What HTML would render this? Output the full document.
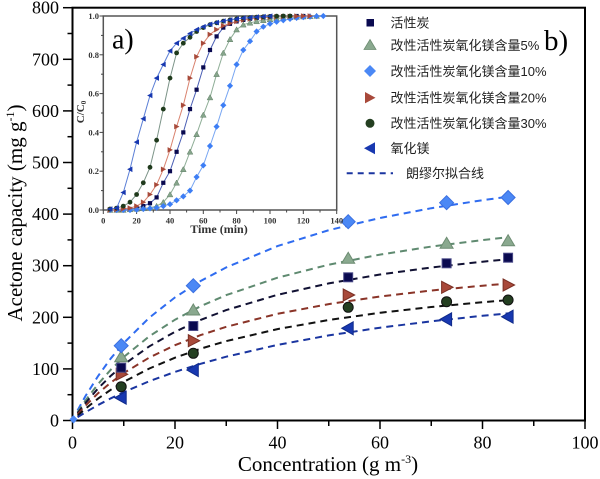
<!DOCTYPE html>
<html><head><meta charset="utf-8"><style>
html,body{margin:0;padding:0;background:#fff;}
svg{display:block;}
</style></head><body>
<svg width="600" height="479" viewBox="0 0 600 479" xmlns="http://www.w3.org/2000/svg">
<defs>
<rect id="sq" x="-4.5" y="-4.5" width="9" height="9" fill="#0a0a50" stroke="#4a4a88" stroke-width="1"/>
<polygon id="tu" points="0,-6 6.5,5 -6.5,5" fill="#8aa98f" stroke="#6d8c72" stroke-width="1"/>
<polygon id="di" points="0,-7 7,0 0,7 -7,0" fill="#4b88f5" stroke="#3a6fe0" stroke-width="1"/>
<polygon id="rt" points="-5,-6 6.5,0 -5,6" fill="#a8493a" stroke="#7a2f24" stroke-width="1"/>
<circle id="ci" r="5" fill="#243f21" stroke="#111" stroke-width="1"/>
<polygon id="lt" points="5,-6.5 -6.5,0 5,6.5" fill="#1838b0" stroke="#0f2a8a" stroke-width="1"/>

<marker id="isq" markerWidth="10" markerHeight="10" refX="5" refY="5" markerUnits="userSpaceOnUse" orient="0" overflow="visible"><rect x="2.9" y="2.9" width="4.2" height="4.2" fill="#0a0a50"/></marker>
<marker id="itu" markerWidth="10" markerHeight="10" refX="5" refY="5" markerUnits="userSpaceOnUse" orient="0" overflow="visible"><polygon points="5,2.2 7.9,7.4 2.1,7.4" fill="#86a58b" stroke="#5f7f66" stroke-width="0.5"/></marker>
<marker id="idi" markerWidth="10" markerHeight="10" refX="5" refY="5" markerUnits="userSpaceOnUse" orient="0" overflow="visible"><polygon points="5,1.9 8.1,5 5,8.1 1.9,5" fill="#3d7ef5"/></marker>
<marker id="irt" markerWidth="10" markerHeight="10" refX="5" refY="5" markerUnits="userSpaceOnUse" orient="0" overflow="visible"><polygon points="2.6,2.2 7.9,5 2.6,7.8" fill="#a84a3a"/></marker>
<marker id="ici" markerWidth="10" markerHeight="10" refX="5" refY="5" markerUnits="userSpaceOnUse" orient="0" overflow="visible"><circle cx="5" cy="5" r="2.4" fill="#1f3a1c"/></marker>
<marker id="ilt" markerWidth="10" markerHeight="10" refX="5" refY="5" markerUnits="userSpaceOnUse" orient="0" overflow="visible"><polygon points="7.4,2.2 2.1,5 7.4,7.8" fill="#1838b0"/></marker>
</defs>

<!-- main frame -->
<rect x="72.5" y="7.7" width="512.5" height="412.8" fill="none" stroke="#000" stroke-width="2"/>

<!-- y ticks -->
<g stroke="#000" stroke-width="1.5">
<line x1="63" y1="420.5" x2="72.5" y2="420.5"/>
<line x1="63" y1="368.9" x2="72.5" y2="368.9"/>
<line x1="63" y1="317.3" x2="72.5" y2="317.3"/>
<line x1="63" y1="265.7" x2="72.5" y2="265.7"/>
<line x1="63" y1="214.1" x2="72.5" y2="214.1"/>
<line x1="63" y1="162.5" x2="72.5" y2="162.5"/>
<line x1="63" y1="110.9" x2="72.5" y2="110.9"/>
<line x1="63" y1="59.3" x2="72.5" y2="59.3"/>
<line x1="63" y1="7.7" x2="72.5" y2="7.7"/>
<line x1="67.5" y1="394.7" x2="72.5" y2="394.7"/>
<line x1="67.5" y1="343.1" x2="72.5" y2="343.1"/>
<line x1="67.5" y1="291.5" x2="72.5" y2="291.5"/>
<line x1="67.5" y1="239.9" x2="72.5" y2="239.9"/>
<line x1="67.5" y1="188.3" x2="72.5" y2="188.3"/>
<line x1="67.5" y1="136.7" x2="72.5" y2="136.7"/>
<line x1="67.5" y1="85.1" x2="72.5" y2="85.1"/>
<line x1="67.5" y1="33.5" x2="72.5" y2="33.5"/>
<!-- x ticks -->
<line x1="72.5" y1="420.5" x2="72.5" y2="429"/>
<line x1="175" y1="420.5" x2="175" y2="429"/>
<line x1="277.5" y1="420.5" x2="277.5" y2="429"/>
<line x1="380" y1="420.5" x2="380" y2="429"/>
<line x1="482.5" y1="420.5" x2="482.5" y2="429"/>
<line x1="585" y1="420.5" x2="585" y2="429"/>
<line x1="123.75" y1="420.5" x2="123.75" y2="426"/>
<line x1="226.25" y1="420.5" x2="226.25" y2="426"/>
<line x1="328.75" y1="420.5" x2="328.75" y2="426"/>
<line x1="431.25" y1="420.5" x2="431.25" y2="426"/>
<line x1="533.75" y1="420.5" x2="533.75" y2="426"/>
</g>

<!-- y tick labels -->
<g font-family="'Liberation Serif', 'Times New Roman', 'DejaVu Serif', serif" font-size="18" fill="#000" text-anchor="end">
<text x="59" y="426.5">0</text>
<text x="59" y="374.9">100</text>
<text x="59" y="323.3">200</text>
<text x="59" y="271.7">300</text>
<text x="59" y="220.1">400</text>
<text x="59" y="168.5">500</text>
<text x="59" y="116.9">600</text>
<text x="59" y="65.3">700</text>
<text x="59" y="13.7">800</text>
</g>
<g font-family="'Liberation Serif', 'Times New Roman', 'DejaVu Serif', serif" font-size="18" fill="#000" text-anchor="middle">
<text x="72.5" y="448.5">0</text>
<text x="175" y="448.5">20</text>
<text x="277.5" y="448.5">40</text>
<text x="380" y="448.5">60</text>
<text x="482.5" y="448.5">80</text>
<text x="585" y="448.5">100</text>
</g>

<!-- axis titles -->
<text x="328" y="471" text-anchor="middle" font-family="'Liberation Serif', 'Times New Roman', 'DejaVu Serif', serif" font-size="21" fill="#000">Concentration (g m<tspan dy="-8" font-size="12">-3</tspan><tspan dy="8">)</tspan></text>
<text transform="translate(22,213) rotate(-90)" text-anchor="middle" font-family="'Liberation Serif', 'Times New Roman', 'DejaVu Serif', serif" font-size="21" fill="#000">Acetone capacity (mg g<tspan dy="-8" font-size="12">-1</tspan><tspan dy="8">)</tspan></text>

<!-- main dashed fit lines -->
<g fill="none" stroke-width="2" stroke-dasharray="7,5">
<polyline stroke="#2f6cf0" points="77.6,410.4 85.3,396.4 98.1,376.0 110.9,358.3 123.75,343.0 149.4,317.6 175,297.4 200.6,281.0 226.25,267.4 277.5,246.1 328.75,230.2 380,218.0 431.25,208.2 482.5,200.2 508.1,196.7"/>
<polyline stroke="#5f8a70" points="77.6,412.2 85.3,400.8 98.1,384.0 110.9,369.6 123.75,357.0 149.4,336.2 175,319.7 200.6,306.2 226.25,295.1 277.5,277.7 328.75,264.7 380,254.6 431.25,246.6 482.5,240.1 508.1,237.2"/>
<polyline stroke="#111133" points="77.6,413.2 85.3,403.2 98.1,388.4 110.9,375.7 123.75,364.6 149.4,346.3 175,331.8 200.6,319.9 226.25,310.1 277.5,294.8 328.75,283.4 380,274.5 431.25,267.5 482.5,261.7 508.1,259.2"/>
<polyline stroke="#8a3428" points="77.6,414.3 85.3,405.8 98.1,393.2 110.9,382.5 123.75,373.1 149.4,357.5 175,345.2 200.6,335.1 226.25,326.8 277.5,313.8 328.75,304.1 380,296.5 431.25,290.5 482.5,285.7 508.1,283.5"/>
<polyline stroke="#111" points="77.6,415.6 85.3,408.8 98.1,398.6 110.9,389.7 123.75,381.8 149.4,368.5 175,357.7 200.6,348.7 226.25,341.1 277.5,329.1 328.75,320.0 380,312.8 431.25,307.0 482.5,302.2 508.1,300.1"/>
<polyline stroke="#1a35a0" points="77.6,417.2 85.3,412.4 98.1,405.0 110.9,398.3 123.75,392.1 149.4,381.2 175,371.9 200.6,363.8 226.25,356.7 277.5,344.9 328.75,335.4 380,327.7 431.25,321.3 482.5,315.8 508.1,313.4"/>
</g>

<!-- main markers -->
<use href="#lt" x="121.2" y="397.7"/><use href="#lt" x="193.3" y="370"/><use href="#lt" x="348.2" y="328.3"/><use href="#lt" x="446.6" y="319.3"/><use href="#lt" x="508.1" y="316.7"/>
<use href="#ci" x="121.2" y="386.7"/><use href="#ci" x="193.3" y="353.3"/><use href="#ci" x="348.2" y="307.3"/><use href="#ci" x="446.6" y="301.7"/><use href="#ci" x="508.1" y="300"/>
<use href="#rt" x="121.2" y="374.3"/><use href="#rt" x="193.3" y="340.7"/><use href="#rt" x="348.2" y="295"/><use href="#rt" x="446.6" y="287.3"/><use href="#rt" x="508.1" y="285"/>
<use href="#sq" x="121.2" y="367.7"/><use href="#sq" x="193.3" y="326"/><use href="#sq" x="348.2" y="277.3"/><use href="#sq" x="446.6" y="263.3"/><use href="#sq" x="508.1" y="257.7"/>
<use href="#tu" x="121.2" y="356.7"/><use href="#tu" x="193.3" y="310"/><use href="#tu" x="348.2" y="258.3"/><use href="#tu" x="446.6" y="243.3"/><use href="#tu" x="508.1" y="240.7"/>
<use href="#di" x="121.2" y="345.7"/><use href="#di" x="193.3" y="285.7"/><use href="#di" x="348.2" y="221.7"/><use href="#di" x="446.6" y="202.7"/><use href="#di" x="508.1" y="197.5"/>
<polygon points="73.5,415 77.5,419.3 73.5,423.6 69.5,419.3" fill="#4b88f5"/>

<!-- ===== inset ===== -->
<rect x="103.3" y="16" width="233.4" height="194" fill="#fff" stroke="#555" stroke-width="1.5"/>
<g stroke="#444" stroke-width="1">
<line x1="99.5" y1="210" x2="103.3" y2="210"/>
<line x1="99.5" y1="171.2" x2="103.3" y2="171.2"/>
<line x1="99.5" y1="132.4" x2="103.3" y2="132.4"/>
<line x1="99.5" y1="93.6" x2="103.3" y2="93.6"/>
<line x1="99.5" y1="54.8" x2="103.3" y2="54.8"/>
<line x1="99.5" y1="16" x2="103.3" y2="16"/>
<line x1="101" y1="190.6" x2="103.3" y2="190.6"/>
<line x1="101" y1="151.8" x2="103.3" y2="151.8"/>
<line x1="101" y1="113" x2="103.3" y2="113"/>
<line x1="101" y1="74.2" x2="103.3" y2="74.2"/>
<line x1="101" y1="35.4" x2="103.3" y2="35.4"/>
<line x1="103.3" y1="210" x2="103.3" y2="214"/>
<line x1="136.6" y1="210" x2="136.6" y2="214"/>
<line x1="170" y1="210" x2="170" y2="214"/>
<line x1="203.3" y1="210" x2="203.3" y2="214"/>
<line x1="236.6" y1="210" x2="236.6" y2="214"/>
<line x1="270" y1="210" x2="270" y2="214"/>
<line x1="303.3" y1="210" x2="303.3" y2="214"/>
<line x1="336.7" y1="210" x2="336.7" y2="214"/>
<line x1="120" y1="210" x2="120" y2="212.5"/>
<line x1="153.3" y1="210" x2="153.3" y2="212.5"/>
<line x1="186.6" y1="210" x2="186.6" y2="212.5"/>
<line x1="220" y1="210" x2="220" y2="212.5"/>
<line x1="253.3" y1="210" x2="253.3" y2="212.5"/>
<line x1="286.6" y1="210" x2="286.6" y2="212.5"/>
<line x1="320" y1="210" x2="320" y2="212.5"/>
</g>
<g font-family="'Liberation Serif', 'Times New Roman', 'DejaVu Serif', serif" font-size="8.5" font-weight="bold" fill="#333" text-anchor="end">
<text x="99" y="213">0.0</text>
<text x="99" y="174.2">0.2</text>
<text x="99" y="135.4">0.4</text>
<text x="99" y="96.6">0.6</text>
<text x="99" y="57.8">0.8</text>
<text x="99" y="19">1.0</text>
</g>
<g font-family="'Liberation Serif', 'Times New Roman', 'DejaVu Serif', serif" font-size="8.5" font-weight="bold" fill="#333" text-anchor="middle">
<text x="103.3" y="223.5">0</text>
<text x="136.6" y="223.5">20</text>
<text x="170" y="223.5">40</text>
<text x="203.3" y="223.5">60</text>
<text x="236.6" y="223.5">80</text>
<text x="270" y="223.5">100</text>
<text x="303.3" y="223.5">120</text>
<text x="336.7" y="223.5">140</text>
</g>
<text x="219" y="233" text-anchor="middle" font-family="'Liberation Serif', 'Times New Roman', 'DejaVu Serif', serif" font-size="12" font-weight="bold" fill="#333">Time (min)</text>
<text transform="translate(84,112) rotate(-90)" text-anchor="middle" font-family="'Liberation Serif', 'Times New Roman', 'DejaVu Serif', serif" font-size="11" font-weight="bold" fill="#333">C/C<tspan font-size="7" dy="2">0</tspan></text>
<text x="112" y="48.5" font-family="'Liberation Serif', 'Times New Roman', 'DejaVu Serif', serif" font-size="28" fill="#000">a)</text>

<g fill="none" stroke-width="1">
<polyline stroke="#4b5fb5" marker-start="url(#isq)" marker-mid="url(#isq)" marker-end="url(#isq)" points="110,210 116.6,210 123.3,209.4 130,209 136.6,208.1 143.3,206.1 150,203.2 156.6,197.4 163.3,182.8 170,171.2 176.6,151.8 183.3,132.4 190,109.1 196.6,89.7 203.3,67.4 210,50 216.6,36.4 223.3,27.6 230,23.8 236.6,21.4 243.3,19.9 250,18.7 256.6,17.9 263.3,17.4 270,17 276.6,16.6 283.3,16.4 290,16.2 296.6,16 303.3,16"/>
<polyline stroke="#8fae97" marker-start="url(#itu)" marker-mid="url(#itu)" marker-end="url(#itu)" points="110,210 116.6,210 123.3,210 130,209.4 136.6,209 143.3,208.4 150,207.7 156.6,206.1 163.3,202.2 170,194.5 176.6,182.8 183.3,169.3 190,151.8 196.6,134.3 203.3,114.9 210,97.5 216.6,74.2 223.3,52.9 230,39.3 236.6,29.6 243.3,24.7 250,22.8 256.6,21.4 263.3,20.3 270,19.3 276.6,18.5 283.3,17.9 290,17.4 296.6,17 303.3,16.6 310,16.2 316.6,16"/>
<polyline stroke="#78a6f2" marker-start="url(#idi)" marker-mid="url(#idi)" marker-end="url(#idi)" points="110,210 116.6,210 123.3,210 130,210 136.6,209.6 143.3,209 150,208.4 156.6,207.7 163.3,206.1 170,204.2 176.6,200.3 183.3,196.4 190,190.6 196.6,177 203.3,165.4 210,146 216.6,126.6 223.3,105.2 230,85.8 236.6,64.5 243.3,50 250,41.2 256.6,31.5 263.3,26.7 270,23.8 276.6,21.8 283.3,20.3 290,18.9 296.6,17.9 303.3,17.2 310,16.6 316.6,16.2 323.3,16"/>
<polyline stroke="#d9826e" marker-start="url(#irt)" marker-mid="url(#irt)" marker-end="url(#irt)" points="110,210 116.6,209.4 123.3,208.8 130,208.1 136.6,206.1 143.3,202.2 150,194.5 156.6,184.8 163.3,169.3 170,149.9 176.6,126.6 183.3,105.2 190,78.1 196.6,56.7 203.3,43.2 210,34.4 216.6,29.6 223.3,25.7 230,23.4 236.6,21.4 243.3,19.9 250,18.9 256.6,18.1 263.3,17.6 270,17.2 276.6,16.8 283.3,16.6 290,16.4 296.6,16.2 303.3,16 310,16"/>
<polyline stroke="#7c9488" marker-start="url(#ici)" marker-mid="url(#ici)" marker-end="url(#ici)" points="110,209 116.6,208.1 123.3,206.1 130,202.2 136.6,194.5 143.3,182.8 150,167.3 156.6,140.2 163.3,109.1 170,78.1 176.6,52.9 183.3,43.2 190,37.3 196.6,31.5 203.3,27.6 210,24.7 216.6,22.8 223.3,21.2 230,19.9 236.6,18.9 243.3,18.1 250,17.6 256.6,17.2 263.3,16.8 270,16.4 276.6,16.2 283.3,16 290,16"/>
<polyline stroke="#5b7fd6" marker-start="url(#ilt)" marker-mid="url(#ilt)" marker-end="url(#ilt)" points="110,209 116.6,208.1 123.3,192.5 130,169.3 136.6,142.1 143.3,118.8 150,95.5 156.6,78.1 163.3,64.5 170,50.9 176.6,43.2 183.3,38.3 190,33.5 196.6,29.6 203.3,26.7 210,24.3 216.6,22.6 223.3,21 230,19.9 236.6,18.9 243.3,18.1 250,17.6 256.6,17 263.3,16.6 270,16.2"/>
</g>

<!-- legend -->
<rect x="366.5" y="19" width="7.5" height="7.5" fill="#0a0a50"/>
<polygon points="370,39.5 376,49.5 364,49.5" fill="#8aa98f" stroke="#6d8c72" stroke-width="0.8"/>
<polygon points="370,65 376,71 370,77 364,71" fill="#4b88f5"/>
<polygon points="365,92 375.5,97.7 365,103.4" fill="#a8493a"/>
<circle cx="370" cy="123.3" r="4.5" fill="#243f21"/>
<polygon points="375,142.3 364,148.3 375,154.3" fill="#1838b0"/>
<line x1="346.7" y1="173.3" x2="393" y2="173.3" stroke="#1a35a0" stroke-width="2" stroke-dasharray="6,5"/>
<g font-family="'Liberation Sans', 'Noto Sans CJK SC', sans-serif" font-size="13" fill="#222">
<text x="390.5" y="27.5">活性炭</text>
<text x="390.5" y="50">改性活性炭氧化镁含量5%</text>
<text x="390.5" y="76">改性活性炭氧化镁含量10%</text>
<text x="390.5" y="102.5">改性活性炭氧化镁含量20%</text>
<text x="390.5" y="128">改性活性炭氧化镁含量30%</text>
<text x="390.5" y="153">氧化镁</text>
<text x="406" y="178">朗缪尔拟合线</text>
</g>
<text x="544" y="50" font-family="'Liberation Serif', 'Times New Roman', 'DejaVu Serif', serif" font-size="29" fill="#000">b)</text>
</svg>
</body></html>
